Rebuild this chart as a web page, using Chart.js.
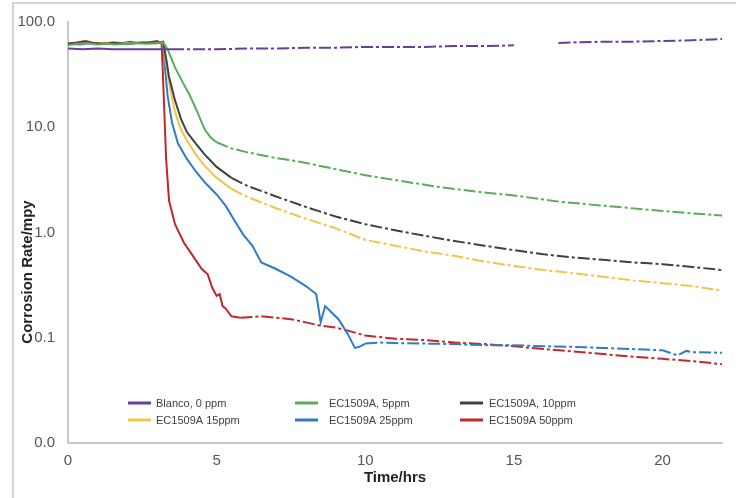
<!DOCTYPE html>
<html>
<head>
<meta charset="utf-8">
<script src="https://cdn.jsdelivr.net/npm/chart.js@4/dist/chart.umd.min.js"></script>
<style>
html, body { margin: 0; padding: 0; background: #fff; }
canvas { display: block; }
</style>
</head>
<body>
<canvas id="myChart" width="736" height="498"></canvas>
<script>
// series names and colours
var seriesNames = ['Blanco, 0 ppm', 'EC1509A, 5ppm', 'EC1509A, 10ppm', 'EC1509A 15ppm', 'EC1509A 25ppm', 'EC1509A 50ppm'];
var seriesColors = ['#6a3d9a', '#55ad5e', '#404040', '#f3c44c', '#2f7bc4', '#c0282a'];

// time (hrs) and corrosion rate (mpy)
var blancoT = [0, 0.5, 1, 1.5, 2, 2.5, 3, 3.5, 4, 5, 6, 7, 8, 9, 10, 11, 12, 13, 14, 15, 15.5, 16.5, 17, 18, 19, 20, 21, 22];
var blancoV = [56, 55, 56, 55, 55, 55, 55, 55, 55, 55, 56, 56, 57, 57, 58, 58, 58, 59, 59, 60, null, 63, 64, 65, 65, 66, 67, 69];

var ppm5T = [0, 0.3, 0.6, 1, 1.3, 1.6, 2, 2.3, 2.6, 3, 3.2, 3.35, 3.6, 3.85, 4.1, 4.35, 4.6, 4.8, 5, 5.5, 6, 7, 7.8, 9, 10, 11, 12.5, 14, 15, 16.6, 18, 20, 21, 22];
var ppm5V = [60, 62, 63, 61, 62, 61, 62, 63, 62, 63, 64, 55, 37, 27, 20, 14, 9.5, 8, 7.2, 6.3, 5.8, 5.1, 4.7, 4.0, 3.5, 3.15, 2.7, 2.4, 2.25, 1.95, 1.8, 1.6, 1.52, 1.45];

var ppm10T = [0, 0.3, 0.5, 0.8, 1.2, 1.5, 2, 2.5, 3, 3.2, 3.3, 3.4, 3.6, 3.8, 4, 4.3, 4.6, 5, 5.5, 6, 7, 8, 9, 10, 11, 12, 13, 14, 15, 16, 17, 18, 19, 20, 21, 22];
var ppm10V = [62, 63, 65, 63, 62, 63, 62, 64, 63, 65, 45, 30, 18, 12, 9, 7, 5.5, 4.2, 3.3, 2.8, 2.2, 1.75, 1.42, 1.2, 1.05, 0.93, 0.83, 0.75, 0.68, 0.62, 0.58, 0.55, 0.52, 0.5, 0.47, 0.44];

var ppm15T = [0, 0.4, 0.8, 1.2, 1.6, 2, 2.4, 2.8, 3.2, 3.3, 3.45, 3.6, 3.8, 4, 4.3, 4.6, 5, 5.5, 6, 7, 8, 9, 10, 11, 12, 13, 14, 15, 16, 17, 18, 19, 20, 21, 22];
var ppm15V = [61, 63, 62, 64, 62, 63, 64, 62, 64, 40, 22, 14, 9.5, 7.5, 5.5, 4.3, 3.3, 2.6, 2.2, 1.7, 1.35, 1.1, 0.85, 0.75, 0.66, 0.6, 0.53, 0.48, 0.44, 0.41, 0.38, 0.35, 0.33, 0.31, 0.28];

var ppm25T = [0, 0.4, 0.8, 1.2, 1.6, 2, 2.4, 2.8, 3.2, 3.25, 3.35, 3.5, 3.7, 4, 4.3, 4.6, 5, 5.3, 5.6, 5.9, 6.2, 6.5, 7, 7.5, 8, 8.35, 8.5, 8.65, 8.9, 9.1, 9.4, 9.65, 9.8, 10, 10.5, 11, 12, 13, 14, 15, 16, 17, 18, 19, 20, 20.5, 20.8, 21, 22];
var ppm25V = [62, 61, 63, 62, 63, 62, 63, 63, 63, 40, 20, 11, 7, 5, 3.8, 3, 2.3, 1.8, 1.3, 0.95, 0.75, 0.52, 0.45, 0.38, 0.31, 0.26, 0.14, 0.2, 0.17, 0.15, 0.11, 0.08, 0.082, 0.088, 0.09, 0.089, 0.088, 0.087, 0.085, 0.085, 0.083, 0.082, 0.08, 0.078, 0.076, 0.068, 0.075, 0.073, 0.072];

var ppm50T = [0, 0.3, 0.6, 0.9, 1.2, 1.5, 1.8, 2.1, 2.4, 2.7, 3, 3.15, 3.22, 3.3, 3.4, 3.6, 3.9, 4.2, 4.5, 4.7, 4.85, 5, 5.1, 5.2, 5.3, 5.5, 5.8, 6.5, 7, 7.5, 8, 8.5, 9, 9.5, 10, 11, 12, 13, 14, 15, 16, 17, 18, 19, 20, 21, 22];
var ppm50V = [62, 64, 66, 63, 62, 64, 63, 65, 63, 64, 66, 62, 20, 5, 2, 1.2, 0.8, 0.6, 0.45, 0.4, 0.3, 0.25, 0.26, 0.2, 0.19, 0.16, 0.155, 0.16, 0.155, 0.15, 0.14, 0.13, 0.125, 0.115, 0.105, 0.098, 0.095, 0.09, 0.087, 0.083, 0.078, 0.074, 0.07, 0.066, 0.063, 0.06, 0.056];

// where the trace starts to look broken in the picture
var dashFrom = [3.4, 5, 5.5, 5.5, 10, 5.6];

var xTicks = [0, 5, 10, 15, 20];
var yTicks = [0.01, 0.1, 1, 10, 100];
var xTitle = 'Time/hrs';
var yTitle = 'Corrosion Rate/mpy';

var allT = [blancoT, ppm5T, ppm10T, ppm15T, ppm25T, ppm50T];
var allV = [blancoV, ppm5V, ppm10V, ppm15V, ppm25V, ppm50V];

function makeDataset(i) {
    var pts = [];
    for (var k = 0; k < allT[i].length; k++) {
        pts.push({x: allT[i][k], y: allV[i][k]});
    }
    var from = dashFrom[i];
    return {
        label: seriesNames[i],
        data: pts,
        borderColor: seriesColors[i],
        backgroundColor: seriesColors[i],
        borderWidth: 2,
        pointRadius: 0,
        tension: 0,
        spanGaps: false,
        segment: {
            borderDash: function(ctx) {
                return ctx.p0.parsed.x >= from ? [12, 3, 3, 3] : undefined;
            }
        }
    };
}

var datasets = [];
for (var i = 0; i < seriesNames.length; i++) {
    datasets.push(makeDataset(i));
}

// frame, rotated y title and a legend sitting inside the plot
var extras = {
    id: 'extras',
    beforeDraw: function(chart) {
        var c = chart.ctx;
        c.save();
        c.fillStyle = '#fff';
        c.fillRect(0, 0, chart.width, chart.height);
        c.strokeStyle = '#d4d4d4';
        c.lineWidth = 2;
        c.strokeRect(13, 3, 740, 520);
        c.restore();
    },
    afterDraw: function(chart) {
        var c = chart.ctx;
        c.save();
        c.translate(28, 272);
        c.rotate(-Math.PI / 2);
        c.font = 'bold 15px "Liberation Sans", Arial, sans-serif';
        c.fillStyle = '#222';
        c.textAlign = 'center';
        c.textBaseline = 'middle';
        c.fillText(yTitle, 0, 0);
        c.restore();

        var lineX = [128, 295, 460];
        var textX = [156, 329, 489];
        var rowY = [403, 420];
        c.save();
        c.font = '11px "Liberation Sans", Arial, sans-serif';
        c.textBaseline = 'middle';
        c.fillStyle = '#404040';
        for (var i = 0; i < chart.data.datasets.length; i++) {
            var col = i % 3, row = Math.floor(i / 3);
            var ds = chart.data.datasets[i];
            c.strokeStyle = ds.borderColor;
            c.lineWidth = 3;
            c.beginPath();
            c.moveTo(lineX[col], rowY[row]);
            c.lineTo(lineX[col] + 23, rowY[row]);
            c.stroke();
            c.fillText(ds.label, textX[col], rowY[row] + 1);
        }
        c.restore();
    }
};

var myChart = new Chart('myChart', {
    type: 'line',
    data: { datasets: datasets },
    plugins: [extras],
    options: {
        responsive: false,
        animation: false,
        layout: { padding: { left: 14, right: 14, top: 21, bottom: 0 } },
        plugins: {
            legend: { display: false },
            tooltip: { enabled: false }
        },
        scales: {
            x: {
                type: 'linear',
                min: 0,
                max: 22,
                grid: { display: false, drawTicks: false },
                border: { display: true, color: '#c8c8c8', width: 2 },
                afterBuildTicks: function(scale) {
                    scale.ticks = xTicks.map(function(v) { return {value: v}; });
                },
                ticks: {
                    padding: 9,
                    color: '#555',
                    font: { size: 15, family: '"Liberation Sans", Arial, sans-serif' }
                },
                title: {
                    display: true,
                    text: xTitle,
                    color: '#222',
                    padding: { top: 0, bottom: 11 },
                    font: { size: 15, weight: 'bold', family: '"Liberation Sans", Arial, sans-serif' }
                },
                afterFit: function(scale) { scale.height = 55; }
            },
            y: {
                type: 'logarithmic',
                min: 0.01,
                max: 100,
                grid: { display: false, drawTicks: false },
                border: { display: true, color: '#c8c8c8', width: 2 },
                afterBuildTicks: function(scale) {
                    scale.ticks = yTicks.map(function(v) { return {value: v}; });
                },
                ticks: {
                    padding: 13,
                    color: '#555',
                    font: { size: 15, family: '"Liberation Sans", Arial, sans-serif' },
                    callback: function(v) { return Number(v).toFixed(1); }
                },
                afterFit: function(scale) { scale.width = 54; }
            }
        }
    }
});
</script>
</body>
</html>
